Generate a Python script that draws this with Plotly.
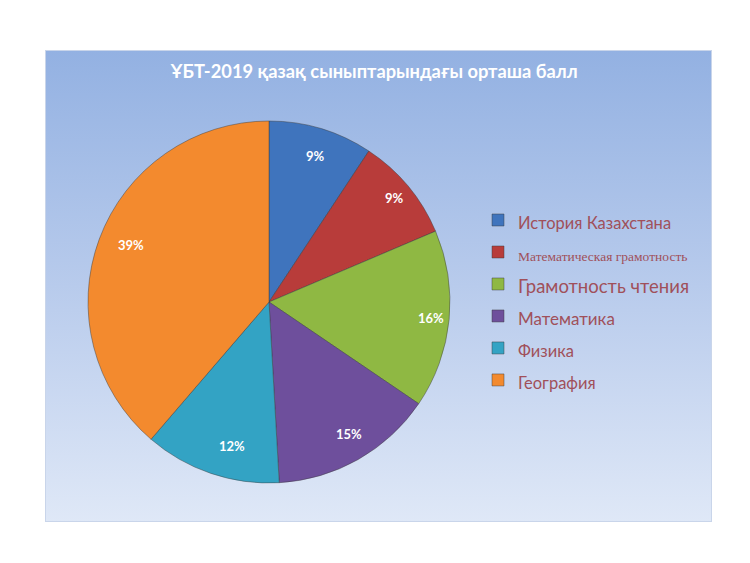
import base64
import math
import plotly.graph_objects as go

# ---- data ----
subjects = ["История Казахстана", "Математическая грамотность", "Грамотность чтения",
            "Математика", "Физика", "География"]
shares = [9.3, 9.3, 15.9, 14.6, 12.2, 38.7]
pct_labels = ["9%", "9%", "16%", "15%", "12%", "39%"]
colors = ["#3f74bd", "#b83c3a", "#8fb843", "#6e4f9c", "#33a3c4", "#f38a2e"]
legend_sizes = [16.5, 13.5, 18.5, 17, 16.5, 16.5]
legend_fonts = ["Lato", "Liberation Serif", "Lato", "Lato", "Lato", "Lato"]
title_text = "ҰБТ-2019 қазақ сыныптарындағы орташа балл"

W, H = 750, 563
cx, cy, R = 269, 302, 181  # pie centre / radius in px

# legend labels with per-item font sizes
legend_labels = [
    f"<span style='font-size:{s}px;font-family:{f}'>{t}</span>"
    for t, s, f in zip(subjects, legend_sizes, legend_fonts)
]

fig = go.Figure(go.Pie(
    labels=legend_labels,
    values=shares,
    sort=False,
    direction="clockwise",
    rotation=0,
    marker=dict(colors=colors, line=dict(color="rgba(60,60,60,0.45)", width=1)),
    textinfo="none",
    hoverinfo="label+percent",
    domain=dict(x=[(cx - R) / W, (cx + R) / W], y=[1 - (cy + R) / H, 1 - (cy - R) / H]),
))

# percentage labels placed at 0.9 radius at the middle angle of each slice
total = sum(shares)
cum = 0
for v, lab in zip(shares, pct_labels):
    mid = (cum + v / 2) / total * 2 * math.pi
    cum += v
    px = cx + 0.9 * R * math.sin(mid)
    py = cy - 0.9 * R * math.cos(mid)
    fig.add_annotation(x=px / W, y=1 - py / H, xref="paper", yref="paper",
                       text=f"<b>{lab}</b>", showarrow=False,
                       font=dict(family="Lato", size=13, color="white"))

# gradient background panel
svg = """<svg xmlns='http://www.w3.org/2000/svg' width='667' height='472' viewBox='0 0 667 472' preserveAspectRatio='none'>
<defs><linearGradient id='g' x1='0' y1='0' x2='0' y2='1'>
<stop offset='0' stop-color='#93b1e2'/>
<stop offset='0.5' stop-color='#b8cbec'/>
<stop offset='1' stop-color='#dfe8f7'/>
</linearGradient></defs>
<rect x='0' y='0' width='667' height='472' fill='url(#g)' stroke='#c9d5ea' stroke-width='2'/>
</svg>"""
src = "data:image/svg+xml;base64," + base64.b64encode(svg.encode()).decode()
x0, x1, y0, y1 = 45, 712, 50, 522
fig.add_layout_image(dict(source=src, xref="paper", yref="paper",
                          x=x0 / W, y=1 - y0 / H, sizex=(x1 - x0) / W, sizey=(y1 - y0) / H,
                          xanchor="left", yanchor="top", sizing="stretch", layer="below"))

fig.update_layout(
    width=W, height=H,
    margin=dict(l=0, r=0, t=0, b=0),
    paper_bgcolor="white",
    plot_bgcolor="rgba(0,0,0,0)",
    title=dict(text=f"<b>{title_text}</b>", x=374 / W, xanchor="center",
               y=1 - 72 / H, yanchor="middle",
               font=dict(family="Lato", size=18.3, color="white")),
    showlegend=True,
    legend=dict(x=478 / W, y=1 - 199 / H, xanchor="left", yanchor="top",
                bgcolor="rgba(0,0,0,0)",
                font=dict(family="Lato", size=22.3, color="#a0505a"),
                traceorder="normal"),
)

fig.write_html("out.html")
